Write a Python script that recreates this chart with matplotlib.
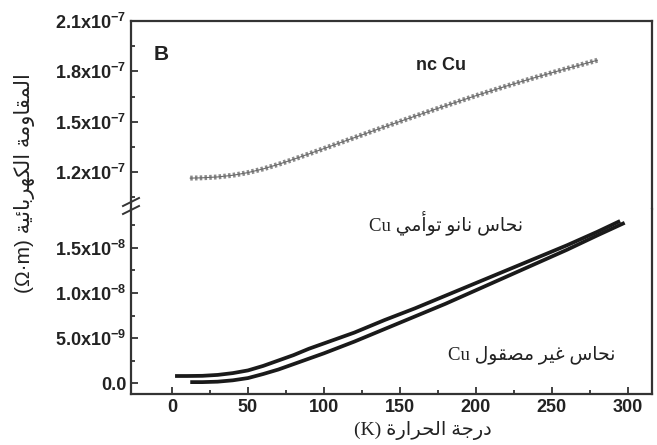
import matplotlib
matplotlib.use('Agg')
import matplotlib.pyplot as plt
from matplotlib.lines import Line2D

plt.rcParams['font.family'] = ['Liberation Sans', 'DejaVu Sans']
plt.rcParams['mathtext.fontset'] = 'custom'
plt.rcParams['mathtext.rm'] = 'Liberation Sans:bold'
plt.rcParams['mathtext.it'] = 'Liberation Sans:bold'
plt.rcParams['mathtext.bf'] = 'Liberation Sans:bold'

# nc Cu (upper panel), resistivity in Ohm*m
T_nc = [12, 20, 30, 40, 50, 60, 70, 80, 90, 100, 120, 140, 160, 180, 200, 220, 240, 260, 280]
rho_nc = [1.164e-7, 1.166e-7, 1.171e-7, 1.181e-7, 1.197e-7, 1.219e-7, 1.246e-7, 1.276e-7,
          1.308e-7, 1.340e-7, 1.405e-7, 1.470e-7, 1.533e-7, 1.595e-7, 1.655e-7, 1.712e-7,
          1.766e-7, 1.817e-7, 1.866e-7]

# nano-twinned Cu (lower panel)
T_nt = [2, 10, 20, 30, 40, 50, 60, 70, 80, 90, 100, 120, 140, 160, 180, 200, 220, 240, 260, 280, 295]
rho_nt = [0.78e-9, 0.78e-9, 0.80e-9, 0.90e-9, 1.10e-9, 1.40e-9, 1.90e-9, 2.50e-9, 3.10e-9, 3.80e-9,
          4.40e-9, 5.60e-9, 7.00e-9, 8.30e-9, 9.70e-9, 11.1e-9, 12.5e-9, 13.9e-9, 15.3e-9, 16.8e-9, 18.0e-9]

# coarse-grained Cu (lower panel)
T_cg = [12, 20, 30, 40, 50, 60, 70, 80, 90, 100, 120, 140, 160, 180, 200, 220, 240, 260, 280, 298]
rho_cg = [0.10e-9, 0.10e-9, 0.15e-9, 0.30e-9, 0.55e-9, 1.00e-9, 1.50e-9, 2.10e-9, 2.70e-9, 3.30e-9,
          4.60e-9, 6.00e-9, 7.40e-9, 8.80e-9, 10.3e-9, 11.8e-9, 13.3e-9, 14.8e-9, 16.4e-9, 17.8e-9]

x_ticks = [0, 50, 100, 150, 200, 250, 300]
top_ticks = [1.2e-7, 1.5e-7, 1.8e-7, 2.1e-7]
top_labels = ['1.2x10$^{-7}$', '1.5x10$^{-7}$', '1.8x10$^{-7}$', '2.1x10$^{-7}$']
bot_ticks = [0, 5e-9, 1e-8, 1.5e-8]
bot_labels = ['0.0', '5.0x10$^{-9}$', '1.0x10$^{-8}$', '1.5x10$^{-8}$']

# simple Arabic shaping: (isolated, final, initial, medial)
FORMS = {
    'ا': ('\uFE8D', '\uFE8E', None, None),
    'أ': ('\uFE83', '\uFE84', None, None),
    'ب': ('\uFE8F', '\uFE90', '\uFE91', '\uFE92'),
    'ة': ('\uFE93', '\uFE94', None, None),
    'ت': ('\uFE95', '\uFE96', '\uFE97', '\uFE98'),
    'ج': ('\uFE9D', '\uFE9E', '\uFE9F', '\uFEA0'),
    'ح': ('\uFEA1', '\uFEA2', '\uFEA3', '\uFEA4'),
    'د': ('\uFEA9', '\uFEAA', None, None),
    'ر': ('\uFEAD', '\uFEAE', None, None),
    'س': ('\uFEB1', '\uFEB2', '\uFEB3', '\uFEB4'),
    'ص': ('\uFEB9', '\uFEBA', '\uFEBB', '\uFEBC'),
    'غ': ('\uFECD', '\uFECE', '\uFECF', '\uFED0'),
    'ف': ('\uFED1', '\uFED2', '\uFED3', '\uFED4'),
    'ق': ('\uFED5', '\uFED6', '\uFED7', '\uFED8'),
    'ك': ('\uFED9', '\uFEDA', '\uFEDB', '\uFEDC'),
    'ل': ('\uFEDD', '\uFEDE', '\uFEDF', '\uFEE0'),
    'م': ('\uFEE1', '\uFEE2', '\uFEE3', '\uFEE4'),
    'ن': ('\uFEE5', '\uFEE6', '\uFEE7', '\uFEE8'),
    'ه': ('\uFEE9', '\uFEEA', '\uFEEB', '\uFEEC'),
    'و': ('\uFEED', '\uFEEE', None, None),
    'ي': ('\uFEF1', '\uFEF2', '\uFEF3', '\uFEF4'),
    'ئ': ('\uFE89', '\uFE8A', '\uFE8B', '\uFE8C'),
}


def ar(word):
    out = []
    for i, ch in enumerate(word):
        f = FORMS[ch]
        prev_joins = i > 0 and FORMS[word[i - 1]][2] is not None
        next_joins = i < len(word) - 1 and f[2] is not None
        if prev_joins and next_joins:
            out.append(f[3])
        elif prev_joins:
            out.append(f[1])
        elif next_joins:
            out.append(f[2])
        else:
            out.append(f[0])
    return ''.join(reversed(out))


def rtl(*words):
    # words in reading order -> visual left-to-right string
    return ' '.join(ar(w) for w in reversed(words))


fig = plt.figure(figsize=(6.57, 4.45), dpi=100)
ax_top = fig.add_axes([0.1994, 0.5303, 0.793, 0.4225])
ax_bot = fig.add_axes([0.1994, 0.1146, 0.793, 0.4157], sharex=ax_top)

ax_top.plot(T_nc, rho_nc, color='#8a8a8a', lw=3.6, ls=(0, (0.5, 0.45)))
ax_top.plot(T_nc, rho_nc, color='#6a6a6a', lw=0.8)
ax_bot.plot(T_nt, rho_nt, color='#1a1a1a', lw=2.7, solid_capstyle='butt')
ax_bot.plot(T_cg, rho_cg, color='#1a1a1a', lw=2.7, solid_capstyle='butt')

ax_top.set_xlim(-27, 316)
ax_top.set_ylim(0.98e-7, 2.1e-7)
ax_bot.set_ylim(-1.22e-9, 1.933e-8)

for ax in (ax_top, ax_bot):
    for s in ax.spines.values():
        s.set_linewidth(1.6)
        s.set_color('#333333')
    ax.tick_params(which='both', direction='in', width=1.3, colors='#333333',
                   labelsize=13, labelcolor='#222222')
    ax.tick_params(which='major', length=5)
    ax.tick_params(which='minor', length=3)

ax_top.spines['bottom'].set_visible(False)
ax_bot.spines['top'].set_visible(False)
ax_top.tick_params(axis='x', which='both', bottom=False, labelbottom=False)

ax_top.set_yticks(top_ticks)
ax_top.set_yticklabels(top_labels, fontweight='bold')
ax_top.set_yticks([1.05e-7, 1.35e-7, 1.65e-7, 1.95e-7], minor=True)
ax_bot.set_yticks(bot_ticks)
ax_bot.set_yticklabels(bot_labels, fontweight='bold')
ax_bot.set_yticks([2.5e-9, 7.5e-9, 1.25e-8, 1.75e-8], minor=True)
ax_bot.set_xticks(x_ticks)
ax_bot.set_xticklabels([str(v) for v in x_ticks], fontweight='bold')
ax_bot.set_xticks([25, 75, 125, 175, 225, 275], minor=True)

# axis break marks on the left spine
W, H = 657.0, 445.0
for yc in (202, 210):
    fig.add_artist(Line2D([123 / W, 139 / W], [1 - (yc + 4) / H, 1 - (yc - 4) / H],
                          color='#333333', lw=1.4))

ax_top.text(0.058, 0.824, 'B', transform=ax_top.transAxes, fontsize=15,
            fontweight='bold', ha='center', va='center', color='#222222')
ax_top.text(0.547, 0.765, 'nc Cu', transform=ax_top.transAxes, fontsize=13,
            fontweight='bold', ha='left', va='center', color='#222222')

serif_ar = ['Liberation Serif', 'DejaVu Sans']
lab_nt = 'Cu ' + rtl('نحاس', 'نانو', 'توأمي')
lab_cg = 'Cu ' + rtl('نحاس', 'غير', 'مصقول')
ax_bot.text(0.605, 0.925, lab_nt, transform=ax_bot.transAxes, fontsize=13.5,
            ha='center', va='center', family=serif_ar, color='#222222')
ax_bot.text(0.77, 0.21, lab_cg, transform=ax_bot.transAxes, fontsize=13.5,
            ha='center', va='center', family=serif_ar, color='#222222')

xlab = '(K) ' + rtl('درجة', 'الحرارة')
fig.text(423 / W, 1 - 431 / H, xlab, fontsize=14, ha='center', va='center',
         family=serif_ar, color='#222222')
ylab = '(Ω·m) ' + rtl('المقاومة', 'الكهربائية')
fig.text(25 / W, 1 - 183 / H, ylab, fontsize=15, ha='center', va='center', rotation=90,
         family=['Liberation Sans', 'DejaVu Sans'], color='#222222')

fig.savefig('out.png', dpi=100)
